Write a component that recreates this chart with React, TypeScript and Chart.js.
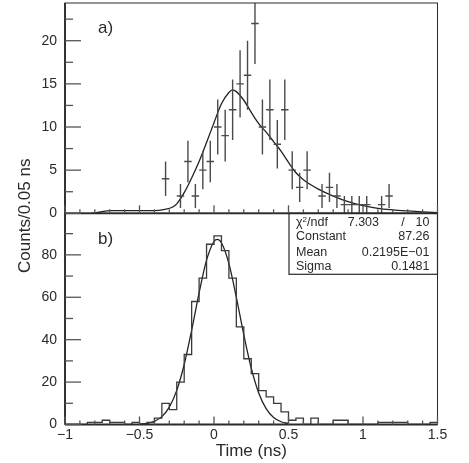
import React, { useEffect, useRef } from 'react';
import { Chart, registerables } from 'chart.js';

Chart.register(...registerables);

// ---------- Panel a): measured points (bin centres, counts, errors) ----------
const aTimes = [-0.325, -0.225, -0.175, -0.125, -0.075, -0.025, 0.025, 0.075, 0.125, 0.175, 0.225, 0.275, 0.325, 0.375, 0.425, 0.475, 0.525, 0.575, 0.625, 0.725, 0.775, 0.825, 0.875, 0.925, 0.975, 1.025, 1.125, 1.175];
const aCounts = [4, 2, 6, 2, 5, 6, 10, 9, 12, 15, 16, 22, 10, 12, 8, 12, 5, 3, 5, 2, 3, 2, 1, 1, 1, 1, 1, 2];
const aErrors = [2, 1.4, 2.4, 1.4, 2.2, 2.4, 3.2, 3, 3.5, 3.9, 4, 4.7, 3.2, 3.5, 2.8, 3.5, 2.2, 1.7, 2.2, 1.4, 1.7, 1.4, 1, 1, 1, 1, 1, 1.4];
const aBinWidth = 0.05;

// Panel a) fit curve (read off the picture)
const aFitTimes = [-0.82, -0.76, -0.7, -0.6, -0.5, -0.4, -0.33, -0.28, -0.25, -0.2, -0.15, -0.1, -0.05, 0, 0.05, 0.1, 0.125, 0.15, 0.2, 0.25, 0.3, 0.35, 0.4, 0.45, 0.5, 0.55, 0.6, 0.65, 0.7, 0.8, 0.9, 1.0, 1.1, 1.2, 1.3, 1.4, 1.5];
const aFitValues = [0, 0.15, 0.3, 0.3, 0.3, 0.3, 0.45, 0.7, 1.1, 2.4, 4.1, 6.0, 8.2, 10.5, 12.7, 14.0, 14.3, 14.1, 13.1, 11.7, 10.4, 9.4, 8.3, 7.2, 5.9, 4.7, 3.9, 3.3, 2.8, 2.0, 1.35, 0.9, 0.58, 0.4, 0.27, 0.16, 0.08];

// ---------- Panel b): histogram, 0.05 ns bins starting at -1 ns ----------
const histStart = -1;
const histBinWidth = 0.05;
const histCounts = [
  0, 0, 0, 1, 1, 2, 1, 1, 0, 1,
  0, 1, 3, 10, 7, 20, 33, 58, 69, 85,
  89, 82, 69, 46, 31, 24, 16, 13, 10, 6,
  2, 3, 0, 3, 0, 0, 2, 2, 0, 0,
  0, 0, 1, 1, 1, 1, 0, 0, 0, 1,
];

// Panel b) gaussian fit curve
const bFitTimes = [-0.5, -0.45, -0.4, -0.35, -0.3, -0.25, -0.2, -0.15, -0.1, -0.05, 0, 0.022, 0.05, 0.1, 0.15, 0.2, 0.25, 0.3, 0.35, 0.4, 0.45, 0.5];
const bFitValues = [0.17, 0.54, 1.5, 3.7, 8.2, 16.1, 28.3, 44.4, 62.1, 77.5, 86.3, 87.26, 85.7, 75.9, 60.0, 42.3, 26.6, 14.9, 7.5, 3.3, 1.3, 0.47];

// ---------- Axes / ticks / labels ----------
const xMajorTicks = [-1, -0.5, 0, 0.5, 1, 1.5];
const xTickLabels = ['\u22121', '\u22120.5', '0', '0.5', '1', '1.5'];
const yaTicks = [0, 5, 10, 15, 20];
const yaTickLabels = ['0', '5', '10', '15', '20'];
const ybTicks = [0, 20, 40, 60, 80];
const ybTickLabels = ['0', '20', '40', '60', '80'];
const xTitle = 'Time (ns)';
const yTitle = 'Counts/0.05 ns';
const panelLabels = ['a)', 'b)'];

// ---------- Fit statistics box ----------
const chi2Value = '7.303';
const ndfValue = '10';
const statNames = ['Constant', 'Mean', 'Sigma'];
const statValues = ['87.26', '0.2195E\u221201', '0.1481'];

const FONT = '"Liberation Sans", Arial, Helvetica, sans-serif';
const INK = '#2a2a2a';

const decor = {
  id: 'decor',
  afterDatasetsDraw(chart: any) {
    const ctx: CanvasRenderingContext2D = chart.ctx;
    const x = chart.scales.x;
    const yA = chart.scales.yA;
    const yB = chart.scales.yB;
    const L = chart.chartArea.left;
    const R = chart.chartArea.right;
    const line = (x1: number, y1: number, x2: number, y2: number) => {
      ctx.beginPath();
      ctx.moveTo(x1, y1);
      ctx.lineTo(x2, y2);
      ctx.stroke();
    };

    // error bars of panel a
    ctx.save();
    ctx.beginPath();
    ctx.rect(L, yA.top, R - L, yA.bottom - yA.top);
    ctx.clip();
    ctx.strokeStyle = '#4a4a4a';
    ctx.lineWidth = 1.4;
    aTimes.forEach((t, i) => {
      const px = x.getPixelForValue(t);
      const py = yA.getPixelForValue(aCounts[i]);
      line(px, yA.getPixelForValue(aCounts[i] + aErrors[i]), px, yA.getPixelForValue(aCounts[i] - aErrors[i]));
      line(x.getPixelForValue(t - aBinWidth / 2), py, x.getPixelForValue(t + aBinWidth / 2), py);
    });
    ctx.restore();

    ctx.save();
    // frames
    ctx.strokeStyle = INK;
    ctx.lineWidth = 1;
    ctx.strokeRect(L, yA.top, R - L, yA.bottom - yA.top);
    ctx.strokeRect(L, yB.top, R - L, yB.bottom - yB.top);
    ctx.lineWidth = 1.8;
    line(L, yA.top, L, yB.bottom);
    line(L, yA.bottom, R, yA.bottom);
    line(L, yB.bottom, R, yB.bottom);

    // x ticks (pointing up) on both panels
    ctx.strokeStyle = '#555';
    ctx.lineWidth = 1.3;
    for (let k = -10; k <= 15; k++) {
      const v = k / 10;
      const px = x.getPixelForValue(v);
      const len = k % 5 === 0 ? 8 : 4;
      line(px, yA.bottom, px, yA.bottom - len);
      line(px, yB.bottom, px, yB.bottom - len);
    }
    // y ticks panel a
    for (let k = 0; k <= 9; k++) {
      const v = k * 2.5;
      const py = yA.getPixelForValue(v);
      line(L, py, L + (k % 2 === 0 ? 16 : 8), py);
    }
    // y ticks panel b
    for (let k = 0; k <= 9; k++) {
      const v = k * 10;
      const py = yB.getPixelForValue(v);
      line(L, py, L + (k % 2 === 0 ? 16 : 8), py);
    }

    // tick labels
    ctx.fillStyle = INK;
    ctx.font = `14px ${FONT}`;
    ctx.textAlign = 'right';
    ctx.textBaseline = 'middle';
    yaTicks.forEach((v, i) => ctx.fillText(yaTickLabels[i], L - 8, yA.getPixelForValue(v)));
    ybTicks.forEach((v, i) => ctx.fillText(ybTickLabels[i], L - 8, yB.getPixelForValue(v)));
    ctx.textAlign = 'center';
    ctx.textBaseline = 'top';
    xMajorTicks.forEach((v, i) => ctx.fillText(xTickLabels[i], x.getPixelForValue(v), yB.bottom + 4));

    // axis titles
    ctx.font = `17px ${FONT}`;
    ctx.textBaseline = 'middle';
    ctx.fillText(xTitle, (L + R) / 2, yB.bottom + 27);
    ctx.save();
    ctx.translate(25, (yA.top + yB.bottom) / 2 + 2);
    ctx.rotate(-Math.PI / 2);
    ctx.fillText(yTitle, 0, 0);
    ctx.restore();

    // panel labels
    ctx.font = `17px ${FONT}`;
    ctx.textAlign = 'left';
    ctx.fillText(panelLabels[0], L + 33, yA.top + 25);
    ctx.fillText(panelLabels[1], L + 33, yB.top + 26);

    // stats box
    const bx = R - 148.5;
    const by = yB.top;
    const bh = 61;
    ctx.strokeStyle = INK;
    ctx.lineWidth = 1.2;
    ctx.strokeRect(bx, by, R - bx, bh);
    ctx.font = `12.5px ${FONT}`;
    ctx.textBaseline = 'middle';
    const tx = bx + 7;
    const vx = R - 8;
    const rows = [by + 9, by + 23.5, by + 39, by + 53.5];
    // chi2/ndf row
    ctx.textAlign = 'left';
    ctx.fillText('\u03c7', tx, rows[0]);
    const cw = ctx.measureText('\u03c7').width;
    ctx.font = `8px ${FONT}`;
    ctx.fillText('2', tx + cw, rows[0] - 3);
    ctx.font = `12.5px ${FONT}`;
    ctx.fillText('/ndf', tx + cw + 4.5, rows[0]);
    ctx.textAlign = 'right';
    ctx.fillText(chi2Value, bx + 90, rows[0]);
    ctx.textAlign = 'center';
    ctx.fillText('/', bx + 114, rows[0]);
    ctx.textAlign = 'right';
    ctx.fillText(ndfValue, vx, rows[0]);
    statNames.forEach((n, i) => {
      ctx.textAlign = 'left';
      ctx.fillText(n, tx, rows[i + 1]);
      ctx.textAlign = 'right';
      ctx.fillText(statValues[i], vx, rows[i + 1]);
    });
    ctx.restore();
  },
};

export default function App() {
  const ref = useRef<HTMLCanvasElement>(null);
  useEffect(() => {
    const canvas = ref.current;
    if (!canvas) return;
    const histPts = histCounts.map((c, i) => ({ x: histStart + i * histBinWidth, y: c }));
    histPts.push({ x: histStart + histCounts.length * histBinWidth, y: histCounts[histCounts.length - 1] });
    const chart = new Chart(canvas, {
      type: 'scatter',
      data: {
        datasets: [
          {
            label: 'a) data',
            data: aTimes.map((t, i) => ({ x: t, y: aCounts[i] })),
            yAxisID: 'yA',
            pointRadius: 0,
            showLine: false,
          },
          {
            label: 'a) fit',
            data: aFitTimes.map((t, i) => ({ x: t, y: aFitValues[i] })),
            yAxisID: 'yA',
            showLine: true,
            borderColor: '#222',
            borderWidth: 1.3,
            pointRadius: 0,
            cubicInterpolationMode: 'monotone',
          },
          {
            label: 'b) histogram',
            data: histPts,
            yAxisID: 'yB',
            showLine: true,
            stepped: 'before',
            borderColor: '#3a3a3a',
            borderWidth: 1.3,
            pointRadius: 0,
          },
          {
            label: 'b) fit',
            data: bFitTimes.map((t, i) => ({ x: t, y: bFitValues[i] })),
            yAxisID: 'yB',
            showLine: true,
            borderColor: '#222',
            borderWidth: 1.3,
            pointRadius: 0,
            cubicInterpolationMode: 'monotone',
          },
        ],
      } as any,
      options: {
        animation: false,
        responsive: false,
        events: [],
        layout: { padding: { left: 65, right: 31.5, top: 3, bottom: 38.5 } },
        plugins: { legend: { display: false }, tooltip: { enabled: false } },
        scales: {
          x: { type: 'linear', min: -1, max: 1.5, display: false },
          yB: { type: 'linear', position: 'left', min: 0, max: 99.6, display: false, stack: 'panels', stackWeight: 211.2 },
          yA: { type: 'linear', position: 'left', min: 0, max: 24.37, display: false, stack: 'panels', stackWeight: 210.3 },
        },
      } as any,
      plugins: [decor],
    });
    return () => chart.destroy();
  }, []);

  return (
    <div style={{ position: 'absolute', left: 0, top: 0, width: 469, height: 463, background: '#fff' }}>
      <canvas ref={ref} width={469} height={463} style={{ display: 'block' }} />
    </div>
  );
}
